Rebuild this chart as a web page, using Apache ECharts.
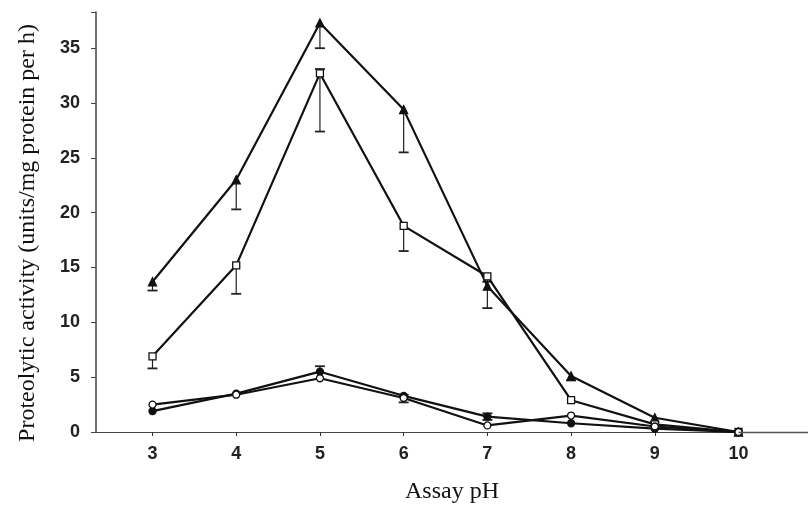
<!DOCTYPE html>
<html>
<head>
<meta charset="utf-8">
<script src="https://cdn.jsdelivr.net/npm/echarts/dist/echarts.min.js"></script>
<style>html,body{margin:0;padding:0;background:#fff}#c{width:808px;height:509px}</style>
</head>
<body>
<div id="c"></div>
<script>
var phValues = [3, 4, 5, 6, 7, 8, 9, 10];
var xTickLabels = [3, 4, 5, 6, 7, 8, 9, 10];
var yTickValues = [0, 5, 10, 15, 20, 25, 30, 35];
var xTitle = 'Assay pH';
var yTitle = 'Proteolytic activity (units/mg protein per h)';

var triangleSeries = [13.7, 23.0, 37.3, 29.4, 13.3, 5.1, 1.3, 0];
var triangleErrDown = [0.8, 2.7, 2.3, 3.9, 2.0, 0.4, 0, 0];
var triangleErrUp = [0, 0, 0, 0, 0, 0, 0, 0];

var squareSeries = [6.9, 15.2, 32.7, 18.8, 14.2, 2.9, 0.7, 0];
var squareErrDown = [1.1, 2.6, 5.3, 2.3, 0.5, 0, 0, 0];
var squareErrUp = [0, 0, 0.4, 0, 0, 0, 0, 0];

var openCircleSeries = [2.5, 3.4, 4.9, 3.1, 0.6, 1.5, 0.5, 0];
var openCircleErrDown = [0, 0, 0, 0.4, 0, 0, 0, 0];
var openCircleErrUp = [0, 0, 0, 0.3, 0, 0, 0, 0];

var filledCircleSeries = [1.9, 3.5, 5.5, 3.3, 1.4, 0.8, 0.3, 0];
var filledCircleErrDown = [0, 0, 0, 0, 0.3, 0, 0, 0];
var filledCircleErrUp = [0, 0, 0.5, 0, 0.3, 0, 0, 0];

var X_MIN = 2.325, X_MAX = 10.83, Y_MAX = 38.3;

function pairs(vals) { return phValues.map(function (x, i) { return [x, vals[i]]; }); }
function errData(vals, dn, up) {
  return phValues.map(function (x, i) { return [x, vals[i], dn[i], up[i]]; });
}
function errorSeries(vals, dn, up) {
  return {
    type: 'custom', silent: true, z: 1,
    data: errData(vals, dn, up),
    renderItem: function (params, api) {
      var x = api.value(0), v = api.value(1), d = api.value(2), u = api.value(3);
      if (!d && !u) return null;
      var lo = api.coord([x, v - d]), hi = api.coord([x, v + u]);
      var c = [];
      c.push({ type: 'line', shape: { x1: lo[0], y1: lo[1], x2: hi[0], y2: hi[1] }, style: { stroke: '#222', lineWidth: 1.2 } });
      if (d) c.push({ type: 'line', shape: { x1: lo[0] - 5, y1: lo[1], x2: lo[0] + 5, y2: lo[1] }, style: { stroke: '#222', lineWidth: 1.8 } });
      if (u) c.push({ type: 'line', shape: { x1: hi[0] - 5, y1: hi[1], x2: hi[0] + 5, y2: hi[1] }, style: { stroke: '#222', lineWidth: 1.8 } });
      return { type: 'group', children: c };
    }
  };
}
function lineSeries(vals, symbol, fill, size) {
  return {
    type: 'line', data: pairs(vals), symbol: symbol, symbolSize: size, z: 3,
    showAllSymbol: true,
    lineStyle: { color: '#111', width: 2.2 },
    itemStyle: { color: fill, borderColor: '#111', borderWidth: 1.3 }
  };
}

var chart = echarts.init(document.getElementById('c'), null, { renderer: 'canvas' });
var tri = lineSeries(triangleSeries, 'triangle', '#111', 8);
tri.markLine = {
  silent: true, symbol: 'none', label: { show: false },
  lineStyle: { type: 'solid', color: '#555', width: 1.3 },
  data: [[{ coord: [10, 0] }, { coord: [X_MAX, 0] }]]
};
chart.setOption({
  animation: false,
  backgroundColor: '#fff',
  grid: { left: 96, right: 0, top: 12, bottom: 75 },
  graphic: [{
    type: 'text', x: 28, y: 233, rotation: Math.PI / 2,
    style: { text: yTitle, fontFamily: 'Liberation Serif', fontSize: 24, fill: '#111', align: 'center', verticalAlign: 'middle' }
  }],
  xAxis: [{
    type: 'value', min: X_MIN, max: X_MAX,
    name: xTitle, nameLocation: 'middle', nameGap: 48,
    nameTextStyle: { fontFamily: 'Liberation Serif', fontSize: 24, color: '#111' },
    axisLine: { show: true, onZero: false, lineStyle: { color: '#888', type: [6, 5], width: 1.2 } },
    axisTick: { show: true, customValues: xTickLabels, length: 4, inside: false, lineStyle: { color: '#333' } },
    axisLabel: { customValues: xTickLabels, margin: 13, fontFamily: 'Liberation Sans', fontSize: 18, fontWeight: 'bold', color: '#222' },
    splitLine: { show: false }
  }, {
    type: 'value', position: 'top', min: X_MIN, max: X_MAX,
    axisLine: { show: true, lineStyle: { color: '#444', width: 1.2 } },
    axisTick: { show: false }, axisLabel: { show: false }, splitLine: { show: false }
  }],
  yAxis: {
    type: 'value', min: 0, max: Y_MAX, interval: 5,
    axisLine: { show: true, lineStyle: { color: '#444', width: 1.5 } },
    axisTick: { show: true, length: 5, lineStyle: { color: '#444' } },
    axisLabel: { margin: 16, fontFamily: 'Liberation Sans', fontSize: 18, fontWeight: 'bold', color: '#222',
      formatter: function (v) { return yTickValues.indexOf(v) >= 0 ? String(v) : ''; } },
    splitLine: { show: false }
  },
  series: [
    errorSeries(triangleSeries, triangleErrDown, triangleErrUp),
    errorSeries(squareSeries, squareErrDown, squareErrUp),
    errorSeries(openCircleSeries, openCircleErrDown, openCircleErrUp),
    errorSeries(filledCircleSeries, filledCircleErrDown, filledCircleErrUp),
    tri,
    lineSeries(squareSeries, 'rect', '#fff', 7),
    lineSeries(filledCircleSeries, 'circle', '#111', 7),
    lineSeries(openCircleSeries, 'circle', '#fff', 7)
  ]
});
</script>
</body>
</html>
